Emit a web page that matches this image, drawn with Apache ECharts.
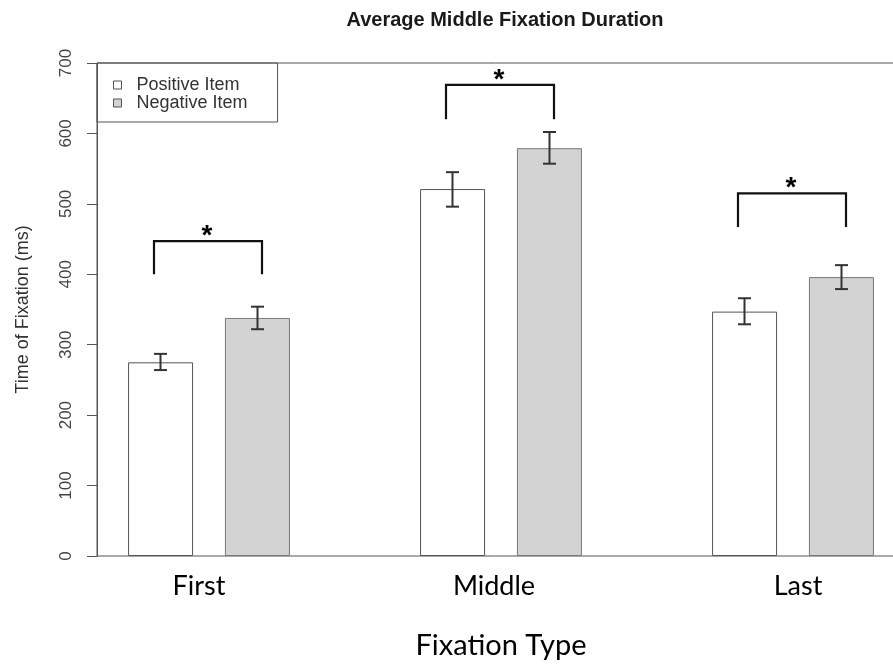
<!DOCTYPE html>
<html>
<head>
<meta charset="utf-8">
<script src="https://cdn.jsdelivr.net/npm/echarts@6/dist/echarts.min.js"></script>
<style>
html,body{margin:0;padding:0;background:#fff;}
#chart{width:893px;height:665px;}
</style>
</head>
<body>
<div id="chart"></div>
<script>
// ---- data ----
var categories = ['First', 'Middle', 'Last'];
var seriesNames = ['Positive Item', 'Negative Item'];
var positiveValues = [275, 521, 347];
var negativeValues = [338, 579, 396];
var positiveErrLow = [264, 496, 329];
var positiveErrHigh = [287, 545, 366];
var negativeErrLow = [322, 557, 379];
var negativeErrHigh = [354, 602, 413];
var bracketLow = [400, 620, 467];
var bracketHigh = [447, 669, 515];
var yTicks = [0, 100, 200, 300, 400, 500, 600, 700];

// ---- style constants ----
var BAR_W = 65, HALF_SEP = 48.5, CAP = 6.5;
var labelShift = [-10, -7, 5];

var errData = [];
for (var i = 0; i < categories.length; i++) {
  errData.push([i, positiveErrLow[i], positiveErrHigh[i], 0]);
  errData.push([i, negativeErrLow[i], negativeErrHigh[i], 1]);
}
var brData = categories.map(function (c, i) { return [i, bracketLow[i], bracketHigh[i]]; });

var chart = echarts.init(document.getElementById('chart'), null, {renderer: 'canvas'});
var option = {
  animation: false,
  backgroundColor: '#fff',
  title: {
    text: 'Average Middle Fixation Duration',
    left: 500, top: 5, textAlign: 'center',
    textStyle: {fontFamily: 'Liberation Sans', fontWeight: 'bold', fontSize: 20, color: '#1a1a1a'}
  },
  legend: {
    orient: 'vertical', left: 97, top: 63,
    data: seriesNames,
    icon: 'rect', itemWidth: 8, itemHeight: 8, itemGap: 0,
    borderColor: '#555', borderWidth: 1,
    padding: [13, 30, 10, 16],
    textStyle: {fontFamily: 'Liberation Sans', fontSize: 18, lineHeight: 18, color: '#333', padding: [0, 0, 0, 10]},
    itemStyle: {borderColor: '#555', borderWidth: 1}
  },
  grid: [
    {left: 63, right: -46, top: 63, height: 493, outerBoundsMode: 'none', containLabel: false},
    {left: 97, right: -3, top: 63, height: 493, outerBoundsMode: 'none', containLabel: false,
     show: true, borderColor: '#555', borderWidth: 1, backgroundColor: 'transparent'}
  ],
  xAxis: [
    {
      type: 'category', gridIndex: 0, data: categories,
      axisLine: {show: false}, axisTick: {show: false},
      axisLabel: {
        margin: 17,
        formatter: function (v, i) { return '{c' + i + '|' + v + '}'; },
        rich: {
          c0: {fontFamily: 'Lato', fontSize: 27, color: '#000', padding: [0, -2 * labelShift[0], 0, 0]},
          c1: {fontFamily: 'Lato', fontSize: 27, color: '#000', padding: [0, -2 * labelShift[1], 0, 0]},
          c2: {fontFamily: 'Lato', fontSize: 27, color: '#000', padding: [0, 0, 0, 2 * labelShift[2]]}
        }
      },
      name: 'Fixation Type', nameLocation: 'middle', nameGap: 75,
      nameTextStyle: {fontFamily: 'Lato', fontSize: 29, color: '#000'}
    },
    {type: 'value', gridIndex: 1, show: false, min: 0, max: 1}
  ],
  yAxis: [
    {type: 'value', gridIndex: 0, min: 0, max: 700, show: false},
    {
      type: 'value', gridIndex: 1, min: 0, max: 700, interval: 100,
      axisLine: {show: true, lineStyle: {color: '#555', width: 1}},
      axisTick: {show: true, length: 10, lineStyle: {color: '#555'}},
      splitLine: {show: false},
      axisLabel: {
        rotate: 90, margin: 22, fontFamily: 'Liberation Sans', fontSize: 17, color: '#444',
        formatter: function (v) { return yTicks.indexOf(v) >= 0 ? String(v) : ''; }
      },
      name: 'Time of Fixation (ms)', nameLocation: 'middle', nameGap: 65, nameRotate: 90,
      nameTextStyle: {fontFamily: 'Liberation Sans', fontSize: 18, color: '#333'}
    }
  ],
  series: [
    {
      name: seriesNames[0], type: 'bar', xAxisIndex: 0, yAxisIndex: 0,
      data: positiveValues, barWidth: BAR_W, barGap: '49%',
      itemStyle: {color: '#ffffff', borderColor: '#555', borderWidth: 1}
    },
    {
      name: seriesNames[1], type: 'bar', xAxisIndex: 0, yAxisIndex: 0,
      data: negativeValues, barWidth: BAR_W, barGap: '49%',
      itemStyle: {color: '#d3d3d3', borderColor: '#777', borderWidth: 1}
    },
    {
      type: 'custom', xAxisIndex: 0, yAxisIndex: 0, data: errData, z: 5,
      renderItem: function (params, api) {
        var c = api.value(0), s = api.value(3);
        var lo = api.coord([c, api.value(1)]);
        var hi = api.coord([c, api.value(2)]);
        var x = lo[0] + (s === 0 ? -HALF_SEP : HALF_SEP);
        var st = {stroke: '#333', lineWidth: 2, fill: null};
        return {
          type: 'group', children: [
            {type: 'line', shape: {x1: x, y1: lo[1], x2: x, y2: hi[1]}, style: st},
            {type: 'line', shape: {x1: x - CAP, y1: lo[1], x2: x + CAP, y2: lo[1]}, style: st},
            {type: 'line', shape: {x1: x - CAP, y1: hi[1], x2: x + CAP, y2: hi[1]}, style: st}
          ]
        };
      }
    },
    {
      type: 'custom', xAxisIndex: 0, yAxisIndex: 0, data: brData, z: 5,
      renderItem: function (params, api) {
        var c = api.value(0);
        var lo = api.coord([c, api.value(1)]);
        var hi = api.coord([c, api.value(2)]);
        var xl = lo[0] - 55, xr = lo[0] + 53;
        return {
          type: 'group', children: [
            {type: 'polyline', shape: {points: [[xl, lo[1]], [xl, hi[1]], [xr, hi[1]], [xr, lo[1]]]},
             style: {stroke: '#111', lineWidth: 2.2, fill: null}},
            {type: 'text', x: lo[0] - 2, y: hi[1] - 5,
             style: {text: '*', fill: '#000', font: 'bold 28px "Liberation Sans"', align: 'center', verticalAlign: 'middle'}}
          ]
        };
      }
    }
  ]
};
chart.setOption(option);
</script>
</body>
</html>
